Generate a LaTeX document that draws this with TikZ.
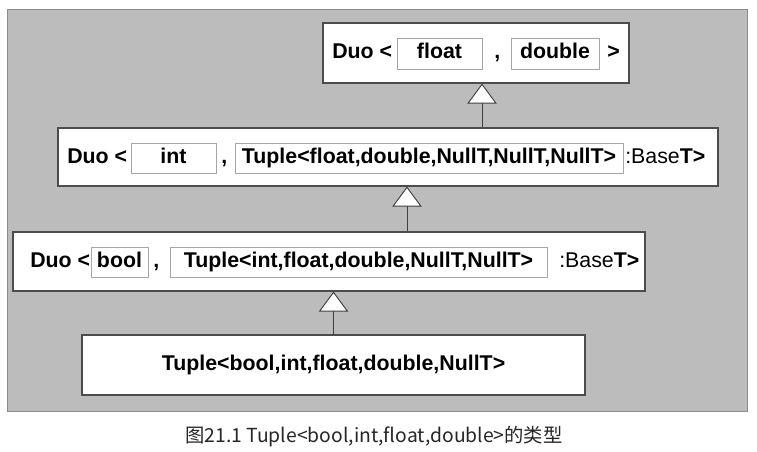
\documentclass[tikz,border=0pt]{standalone}
\usepackage{fontspec}
\setmainfont{Liberation Sans}
\newfontfamily\cjk{Noto Sans CJK SC}
\usetikzlibrary{arrows.meta, positioning}
\definecolor{panelgray}{RGB}{188,188,188}

\begin{document}
\begin{tikzpicture}[x=0.75pt,y=-0.75pt,
  outerbox/.style={draw=black!70, fill=white, line width=0.8pt, inner sep=0pt},
  innerbox/.style={draw=black!35, line width=0.6pt, inner sep=0pt, minimum height=22.5pt},
  boxtext/.style={font=\fontsize{16}{18}\selectfont\bfseries, inner sep=0pt, text height=11.5pt, text depth=3.5pt},
  inherit/.style={draw=black!75, line width=0.7pt, -{Triangle[open, fill=white, length=15pt, width=22pt]}}]
\useasboundingbox (0,0) rectangle (757,451);
% The panel
\fill[panelgray, draw=black!45, line width=0.5pt] (7,9) rectangle (747,411);
% Outer boxes
\node (duoA) at (476,53) [outerbox, minimum width=229.5pt, minimum height=45pt] {};
\node (duoB) at (388,157) [outerbox, minimum width=495pt, minimum height=43.5pt] {};
\node (duoC) at (329,261.5) [outerbox, minimum width=474pt, minimum height=44.25pt] {};
\node (tup) at (333.5,365) [outerbox, boxtext, minimum width=377.25pt, minimum height=45pt] {Tuple<bool,int,float,double,NullT>};
% Duo<float,double>
\node (lblA) at (332,53.5) [boxtext, anchor=west] {Duo <};
\node (fltA) at (439.5,53.5) [innerbox, boxtext, minimum width=63.75pt, minimum height=23.25pt] {float};
\node (cmA) at (494,53.5) [boxtext, anchor=west] {,};
\node (dblA) at (555,53.5) [innerbox, boxtext, minimum width=66pt, minimum height=23.25pt] {double};
\node (gtA) at (607,53.5) [boxtext, anchor=west] {>};
% Duo<int,Tuple<...>>
\node (lblB) at (67,158) [boxtext, anchor=west] {Duo <};
\node (intB) at (173.5,158) [innerbox, boxtext, minimum width=63.75pt] {int};
\node (cmB) at (221,158) [boxtext, anchor=west] {,};
\node (tplB) at (429,158) [innerbox, boxtext, minimum width=291pt] {Tuple<float,double,NullT,NullT,NullT>};
\node (baseB) at (625,158) [boxtext, anchor=west] {{\mdseries :Base}T>};
% Duo<bool,Tuple<...>>
\node (lblC) at (30,262) [boxtext, anchor=west] {Duo <};
\node (boolC) at (119.5,262) [innerbox, boxtext, minimum width=42.75pt] {bool};
\node (cmC) at (153,262) [boxtext, anchor=west] {,};
\node (tplC) at (358.5,262) [innerbox, boxtext, minimum width=282.75pt] {Tuple<int,float,double,NullT,NullT>};
\node (baseC) at (559,262) [boxtext, anchor=west] {{\mdseries :Base}T>};
% Inheritance
\coordinate (upA) at (482,0);
\coordinate (upB) at (407,0);
\draw[inherit] (duoB.north -| upA) -- (duoA.south -| upA);
\draw[inherit] (duoC.north -| upB) -- (duoB.south -| upB);
\draw[inherit] (tup.north) -- (tup.north |- duoC.south);
% Caption
\node (cap) at (374,437) [font=\cjk\fontsize{14.5}{16}\selectfont, text=black!85] {图21.1 Tuple<bool,int,float,double>的类型};
\end{tikzpicture}
\end{document}
